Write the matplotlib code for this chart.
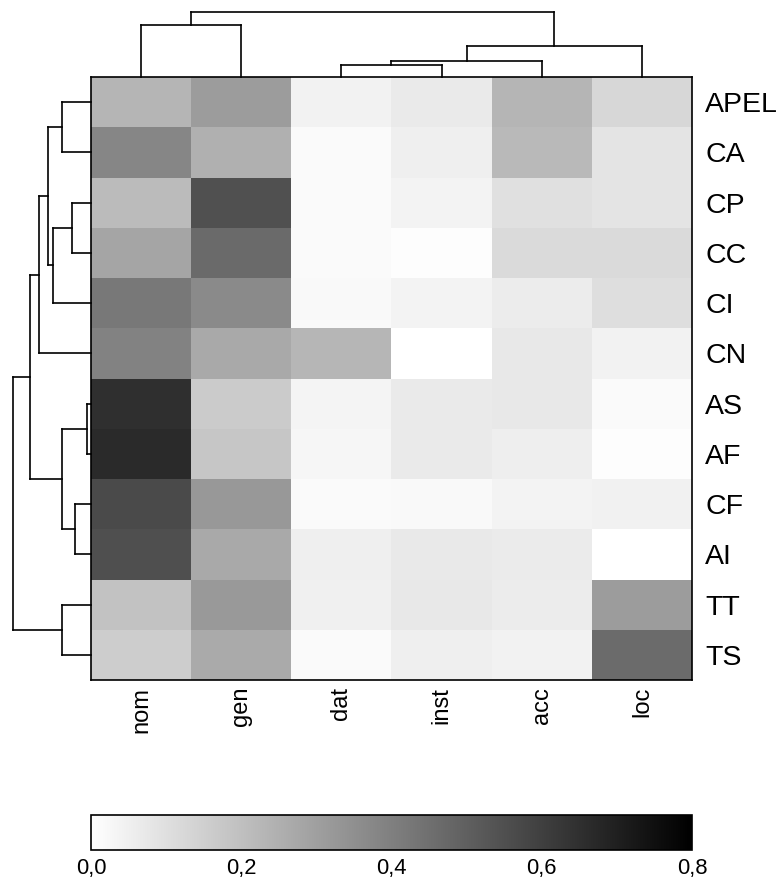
import matplotlib
matplotlib.use("Agg")
import matplotlib.pyplot as plt
import numpy as np
from matplotlib.colors import LinearSegmentedColormap, Normalize
from matplotlib.cm import ScalarMappable

plt.rcParams['font.family'] = ['Liberation Sans', 'DejaVu Sans']

# ---------------- data ----------------
row_labels = ['APEL', 'CA', 'CP', 'CC', 'CI', 'CN', 'AS', 'AF', 'CF', 'AI', 'TT', 'TS']
col_labels = ['nom', 'gen', 'dat', 'inst', 'acc', 'loc']

nom  = [0.232, 0.380, 0.213, 0.282, 0.424, 0.392, 0.653, 0.668, 0.568, 0.552, 0.191, 0.157]
gen  = [0.311, 0.248, 0.549, 0.467, 0.367, 0.270, 0.163, 0.179, 0.323, 0.270, 0.320, 0.267]
dat  = [0.041, 0.016, 0.016, 0.016, 0.019, 0.229, 0.035, 0.031, 0.016, 0.050, 0.047, 0.016]
inst = [0.066, 0.053, 0.038, 0.009, 0.038, 0.000, 0.066, 0.066, 0.019, 0.069, 0.072, 0.050]
acc  = [0.232, 0.220, 0.097, 0.116, 0.060, 0.072, 0.072, 0.056, 0.038, 0.063, 0.060, 0.041]
loc  = [0.125, 0.085, 0.085, 0.116, 0.104, 0.041, 0.016, 0.009, 0.044, 0.000, 0.311, 0.464]

# dendrogram merges: (child_a, child_b, height); leaves are 0..n-1 in display order
row_links = [(0, 1, 28.7), (2, 3, 19.3), (13, 4, 38.3), (12, 14, 43.3), (15, 5, 51.7),
             (6, 7, 4.0), (8, 9, 16.3), (17, 18, 28.7), (16, 19, 61.0),
             (10, 11, 28.7), (20, 21, 77.7)]
col_links = [(0, 1, 52.3), (2, 3, 12.3), (7, 4, 16.7), (8, 5, 31.7), (6, 9, 66.0)]

cbar_ticks = [0.0, 0.2, 0.4, 0.6, 0.8]
cbar_ticklabels = ['0,0', '0,2', '0,4', '0,6', '0,8']
vmin, vmax = 0.0, 0.8

# ---------------- figure ----------------
W, H = 782, 883
fig = plt.figure(figsize=(W / 100, H / 100), dpi=100)

def ax_px(x0, y0, x1, y1):
    return fig.add_axes([x0 / W, 1 - y1 / H, (x1 - x0) / W, (y1 - y0) / H])

cmap = LinearSegmentedColormap.from_list('wb', ['#ffffff', '#000000'])
norm = Normalize(vmin, vmax)

mat = np.array([nom, gen, dat, inst, acc, loc]).T
nr, nc = mat.shape

hx0, hy0, hx1, hy1 = 91, 77, 692, 680
ax = ax_px(hx0, hy0, hx1, hy1)
ax.pcolormesh(np.arange(nc + 1), np.arange(nr + 1), mat, cmap=cmap, norm=norm)
ax.set_xlim(0, nc)
ax.set_ylim(nr, 0)
ax.yaxis.tick_right()
ax.set_yticks(np.arange(nr) + 0.5)
ax.set_yticklabels(row_labels, fontsize=20.5)
ax.set_xticks(np.arange(nc) + 0.5)
ax.set_xticklabels(col_labels, fontsize=17, rotation=90)
ax.tick_params(length=0, pad=9.5)
ax.tick_params(axis='x', pad=5.0)
for s in ax.spines.values():
    s.set_linewidth(1.2)

def dendro_segments(links, n):
    pos = {i: (i + 0.5, 0.0) for i in range(n)}
    segs = []
    for k, (a, b, h) in enumerate(links):
        pa, ha = pos[a]
        pb, hb = pos[b]
        segs.append(([pa, pa], [ha, h]))
        segs.append(([pb, pb], [hb, h]))
        segs.append(([pa, pb], [h, h]))
        pos[n + k] = ((pa + pb) / 2, h)
    return segs

# top dendrogram
axt = ax_px(hx0, 12, hx1, hy0)
for xs, hs in dendro_segments(col_links, nc):
    axt.plot(xs, hs, color='black', lw=1.2, solid_capstyle='projecting', clip_on=False)
axt.set_xlim(0, nc)
axt.set_ylim(0, max(h for _, _, h in col_links))
axt.axis('off')

# left dendrogram
axl = ax_px(13, hy0, hx0, hy1)
for ps, hs in dendro_segments(row_links, nr):
    axl.plot(hs, ps, color='black', lw=1.2, solid_capstyle='projecting', clip_on=False)
axl.set_ylim(nr, 0)
axl.set_xlim(max(h for _, _, h in row_links), 0)
axl.axis('off')

# colour bar
axc = ax_px(91, 815, 692, 850)
cb = fig.colorbar(ScalarMappable(norm=norm, cmap=cmap), cax=axc, orientation='horizontal')
cb.set_ticks(cbar_ticks)
cb.set_ticklabels(cbar_ticklabels)
axc.tick_params(length=0, pad=5.5, labelsize=15.8)
cb.outline.set_linewidth(1.2)

fig.savefig('out.png', dpi=100)
